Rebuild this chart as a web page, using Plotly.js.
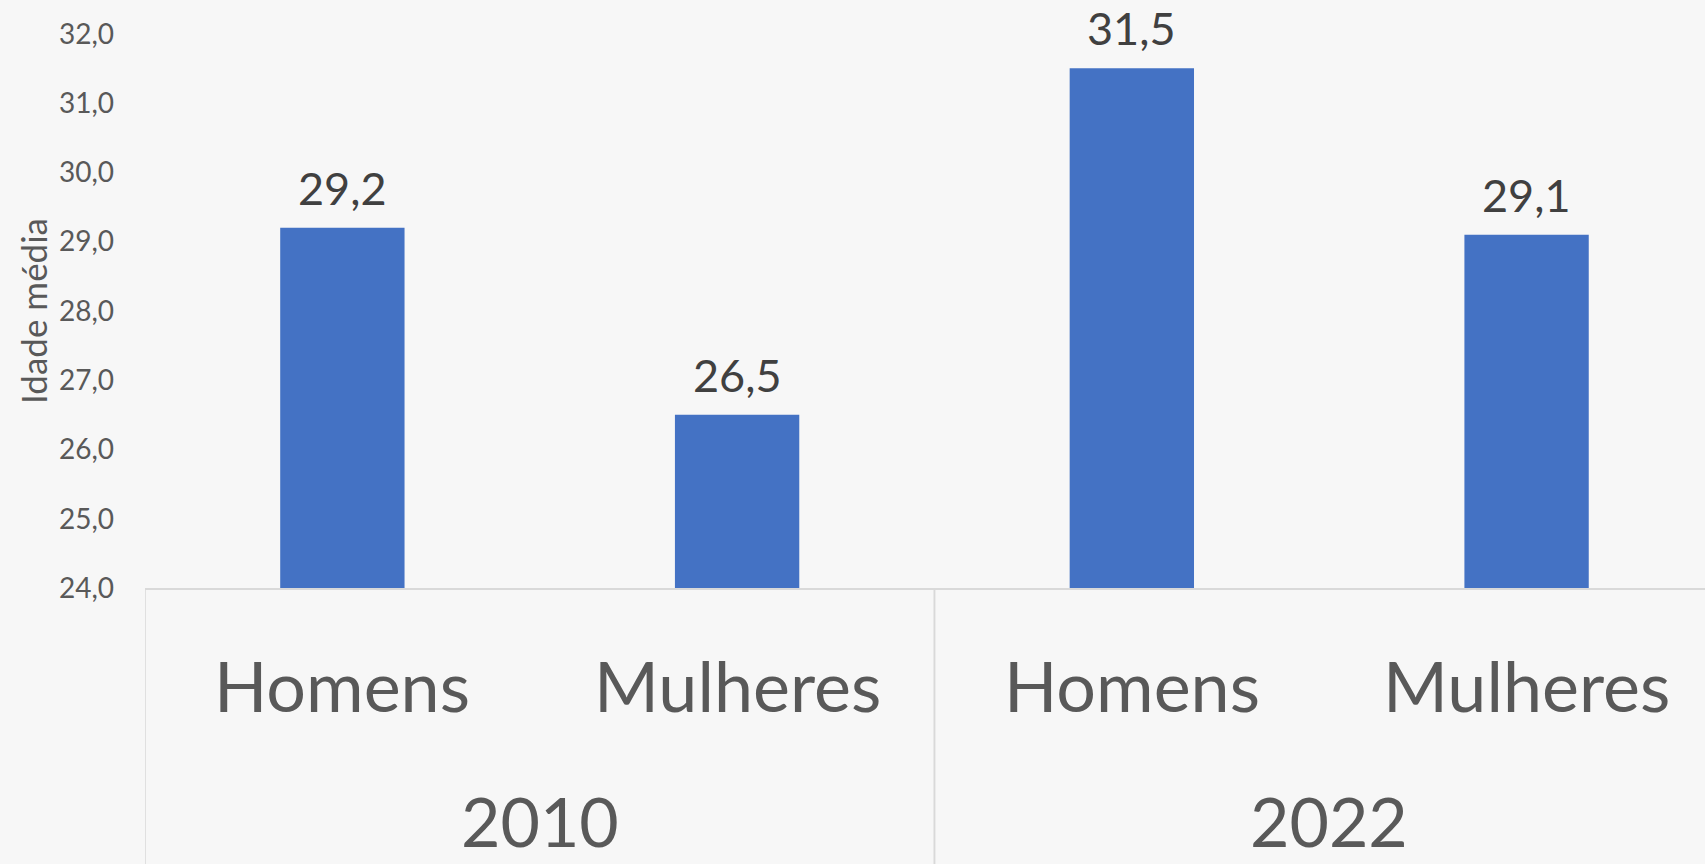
<!DOCTYPE html>
<html>
<head>
<meta charset="utf-8">
<script src="https://cdn.plot.ly/plotly-3.0.1.min.js"></script>
<style>html,body{margin:0;padding:0;background:#f7f7f7;}#chart{width:1705px;height:864px;}</style>
</head>
<body>
<div id="chart"></div>
<script>
// Data
const years = ["2010", "2010", "2022", "2022"];
const sexes = ["Homens", "Mulheres", "Homens", "Mulheres"];
const values = [29.2, 26.5, 31.5, 29.1];
const yTickVals = [24, 25, 26, 27, 28, 29, 30, 31, 32];
const yTickText = ["24,0", "25,0", "26,0", "27,0", "28,0", "29,0", "30,0", "31,0", "32,0"];
const yTitle = "Idade média";
const yBase = 24;

const keys = years.map((y, i) => y + " " + sexes[i]);
const fmt = v => v.toFixed(1).replace(".", ",");
const FONT = "Lato, 'Open Sans', sans-serif";
const GRID = "#d9d9d9";

const trace = {
  type: "bar",
  x: keys,
  y: values.map(v => v - yBase),
  base: yBase,
  marker: {color: "#4472c4"},
  width: 0.315,
  hoverinfo: "skip"
};

const annotations = [];
// value labels above bars
values.forEach((v, i) => {
  annotations.push({
    x: keys[i], xref: "x", y: v, yref: "y",
    text: fmt(v), showarrow: false, xanchor: "center", yanchor: "bottom",
    yshift: 12, borderpad: 0,
    font: {family: FONT, size: 45, color: "#404040"}
  });
});
sexes.forEach((s, i) => {
  annotations.push({
    x: keys[i], xref: "x", y: -0.167, yref: "paper",
    text: s, showarrow: false, xanchor: "center", yanchor: "middle",
    font: {family: FONT, size: 70, color: "#595959"}
  });
});
const uniqYears = [...new Set(years)];
uniqYears.forEach(yr => {
  const idx = years.map((y, i) => y === yr ? i : -1).filter(i => i >= 0);
  const mid = (idx[0] + idx[idx.length - 1]) / 2;
  annotations.push({
    x: mid, xref: "x", y: -0.473, yref: "paper",
    text: yr, showarrow: false, xanchor: "center", yanchor: "bottom",
    font: {family: FONT, size: 68, color: "#595959"}
  });
});
// y-axis title
annotations.push({
  x: -0.0718, xref: "paper", y: 0.476, yref: "paper",
  text: yTitle, textangle: -90, showarrow: false,
  xanchor: "center", yanchor: "middle",
  font: {family: FONT, size: 35, color: "#595959"}
});

const shapes = [];
uniqYears.forEach(yr => {
  const idx = years.map((y, i) => y === yr ? i : -1).filter(i => i >= 0);
  [idx[0] - 0.5, idx[idx.length - 1] + 0.5].forEach(xv => {
    shapes.push({type: "line", xref: "x", yref: "paper", x0: xv, x1: xv, y0: 0, y1: -0.6,
      line: {color: GRID, width: 1.5}, layer: "below"});
  });
});

const layout = {
  width: 1705, height: 864,
  margin: {l: 145, r: 0, t: 6, b: 276, pad: 0},
  paper_bgcolor: "#f7f7f7",
  plot_bgcolor: "#f7f7f7",
  showlegend: false,
  xaxis: {
    type: "category",
    range: [-0.5, 3.452],
    showticklabels: false,
    ticks: "",
    showgrid: false,
    zeroline: false,
    showline: true,
    linecolor: GRID,
    linewidth: 1.5,
    fixedrange: true
  },
  yaxis: {
    range: [24, 32.4],
    tickvals: yTickVals,
    ticktext: yTickText,
    showgrid: false,
    zeroline: false,
    showline: false,
    ticks: "",
    ticklabelstandoff: 30,
    tickfont: {family: FONT, size: 28, color: "#595959"},
    fixedrange: true
  },
  annotations: annotations,
  shapes: shapes
};

Plotly.newPlot("chart", [trace], layout, {displayModeBar: false, staticPlot: true});
</script>
</body>
</html>
